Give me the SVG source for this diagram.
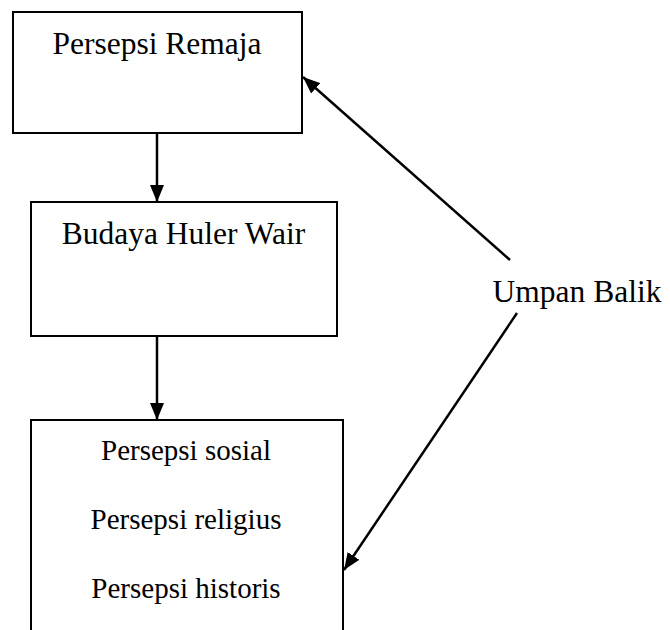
<svg xmlns="http://www.w3.org/2000/svg" width="670" height="630" viewBox="0 0 670 630">
<style>
.box{fill:#fff;stroke:#000;stroke-width:2}
.t{font-family:"Liberation Serif","Times New Roman",serif;fill:#000;text-anchor:middle}
.big{font-size:31.5px}
.small{font-size:29px}
.c{stroke:#000;stroke-width:2.5;fill:none;marker-end:url(#ah)}
</style>
<defs>
<marker id="ah" markerUnits="userSpaceOnUse" markerWidth="17" markerHeight="14" refX="17" refY="7" orient="auto">
<path d="M0,0 L17,7 L0,14 Z" fill="#000"/>
</marker>
</defs>
<rect width="670" height="630" fill="#fff"/>
<g id="n1">
<rect class="box" x="13" y="12" width="289" height="121"/>
<text class="t big" x="157" y="54">Persepsi Remaja</text>
</g>
<g id="n2">
<rect class="box" x="31" y="202" width="306" height="134"/>
<text class="t big" x="183.5" y="244">Budaya Huler Wair</text>
</g>
<g id="n3">
<rect class="box" x="31" y="420" width="312" height="240"/>
<text class="t small" x="186" y="460">Persepsi sosial</text>
<text class="t small" x="186" y="529">Persepsi religius</text>
<text class="t small" x="186" y="598">Persepsi historis</text>
</g>
<g id="n4">
<text class="t big" x="577" y="302">Umpan Balik</text>
</g>
<g id="connectors">
<line class="c" x1="157" y1="133" x2="157" y2="202"/>
<line class="c" x1="157" y1="336" x2="157" y2="420"/>
<line class="c" x1="510" y1="260" x2="303" y2="77"/>
<line class="c" x1="517" y1="313" x2="344" y2="570"/>
</g>
</svg>
